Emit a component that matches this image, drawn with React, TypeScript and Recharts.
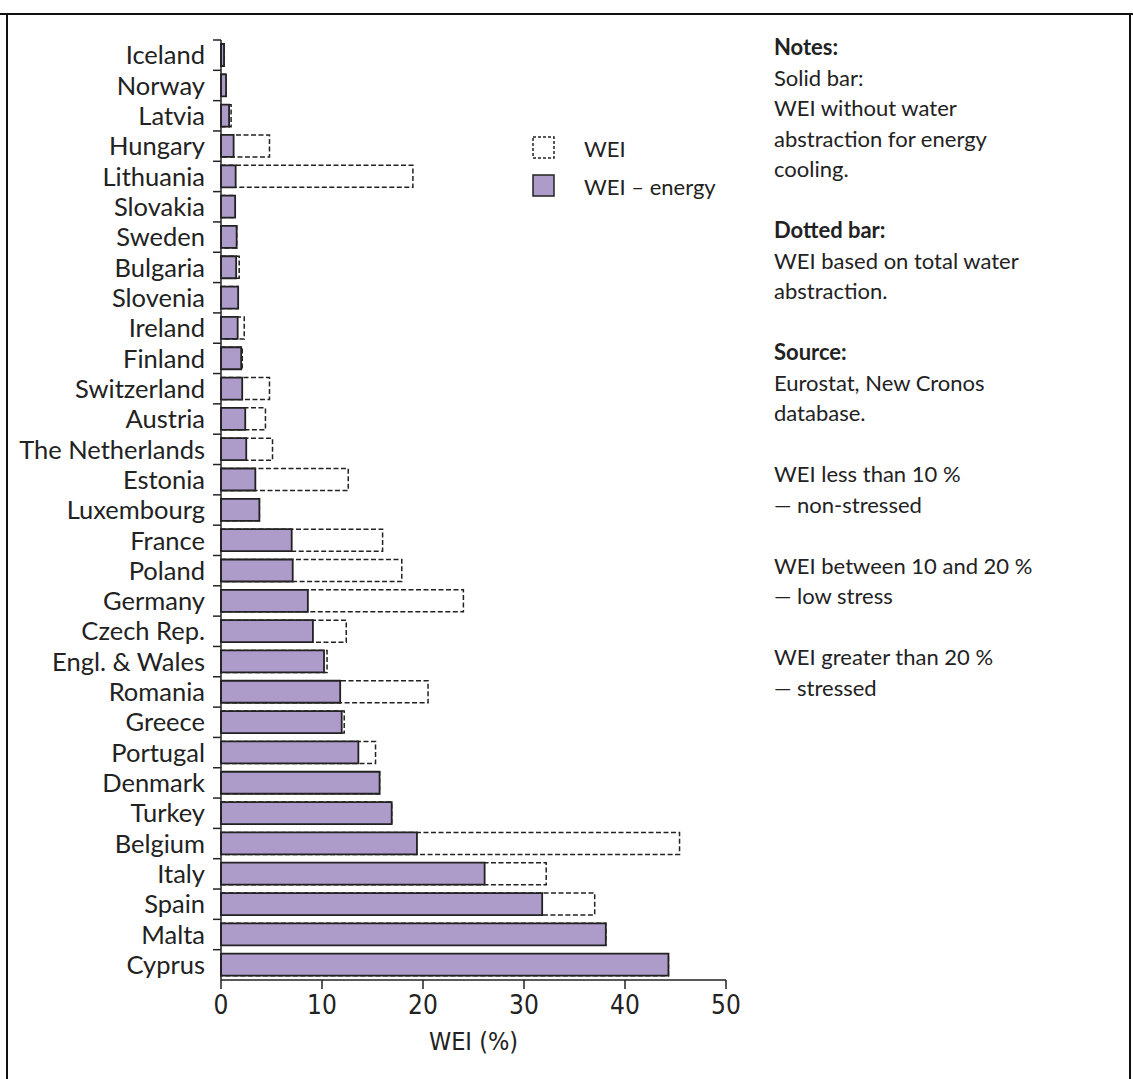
import React from 'react';
import { BarChart, Bar, XAxis, YAxis, Legend } from 'recharts';

const countries = [
  'Iceland', 'Norway', 'Latvia', 'Hungary', 'Lithuania', 'Slovakia', 'Sweden', 'Bulgaria',
  'Slovenia', 'Ireland', 'Finland', 'Switzerland', 'Austria', 'The Netherlands', 'Estonia',
  'Luxembourg', 'France', 'Poland', 'Germany', 'Czech Rep.', 'Engl. & Wales', 'Romania',
  'Greece', 'Portugal', 'Denmark', 'Turkey', 'Belgium', 'Italy', 'Spain', 'Malta', 'Cyprus',
];

// WEI without abstraction for energy cooling (solid bars)
const weiEnergy = [
  0.3, 0.5, 0.8, 1.25, 1.45, 1.4, 1.55, 1.5, 1.7, 1.65, 2.0, 2.1, 2.4, 2.5, 3.4, 3.8,
  7.0, 7.1, 8.6, 9.1, 10.2, 11.8, 11.95, 13.6, 15.7, 16.9, 19.4, 26.1, 31.8, 38.1, 44.3,
];

// WEI on total abstraction (dotted bars)
const weiTotal = [
  0.3, 0.5, 1.0, 4.8, 19.0, 1.4, 1.55, 1.8, 1.7, 2.3, 2.1, 4.8, 4.4, 5.1, 12.6, 3.8,
  16.0, 17.9, 24.0, 12.4, 10.5, 20.5, 12.2, 15.3, 15.7, 16.9, 45.4, 32.2, 37.0, 38.1, 44.3,
];

const xTicks = [0, 10, 20, 30, 40, 50];

const notes: { text: string; bold?: boolean }[] = [
  { text: 'Notes:', bold: true },
  { text: 'Solid bar:' },
  { text: 'WEI without water' },
  { text: 'abstraction for energy' },
  { text: 'cooling.' },
  { text: '' },
  { text: 'Dotted bar:', bold: true },
  { text: 'WEI based on total water' },
  { text: 'abstraction.' },
  { text: '' },
  { text: 'Source:', bold: true },
  { text: 'Eurostat, New Cronos' },
  { text: 'database.' },
  { text: '' },
  { text: 'WEI less than 10 %' },
  { text: '\u2014 non-stressed' },
  { text: '' },
  { text: 'WEI between 10 and 20 %' },
  { text: '\u2014 low stress' },
  { text: '' },
  { text: 'WEI greater than 20 %' },
  { text: '\u2014 stressed' },
];

const data = countries.map((country, i) => ({
  country,
  total: weiTotal[i],
  energy: weiEnergy[i],
}));

const FONT = 'Lato, "Open Sans", sans-serif';
const NARROW = '"Liberation Sans Narrow", "DejaVu Sans Condensed", "Liberation Sans", sans-serif';
const INK = '#222';
const PURPLE = '#ad9bc9';

const CHART_W = 760;
const CHART_H = 1079;
const TOP = 40;
const Y_W = 221;
const X_H = 75;
const BOTTOM = 24;
const BAND = (CHART_H - TOP - X_H - BOTTOM) / countries.length;

function CountryTick(props: any) {
  const { y, payload } = props;
  const top = y - BAND / 2;
  return (
    <g>
      <line x1={Y_W - 8} x2={Y_W} y1={top} y2={top} stroke={INK} strokeWidth={1.5} />
      <text x={Y_W - 16} y={y} dy="0.36em" textAnchor="end" fontFamily={FONT} fontSize={25.5} fill={INK}>
        {payload.value}
      </text>
    </g>
  );
}

function LegendBox(props: any) {
  const items = props.payload || [];
  return (
    <div style={{ fontFamily: FONT, fontSize: 22, color: INK }}>
      {items.map((item: any) => {
        const dotted = item.dataKey === 'total';
        return (
          <div key={item.dataKey} style={{ display: 'flex', alignItems: 'center', height: 38, whiteSpace: 'nowrap' }}>
            <svg width={24} height={24} style={{ marginRight: 28 }}>
              <rect
                x={1}
                y={1}
                width={21}
                height={21}
                fill={dotted ? '#fff' : PURPLE}
                stroke={INK}
                strokeWidth={1.5}
                strokeDasharray={dotted ? '3 2' : undefined}
              />
            </svg>
            <span>{item.value}</span>
          </div>
        );
      })}
    </div>
  );
}

export default function App() {
  return (
    <div style={{ position: 'fixed', inset: 0, background: '#fff', overflow: 'hidden' }}>
      <div style={{ position: 'absolute', left: 0, right: 0, top: 13, height: 2, background: '#111' }} />
      <div style={{ position: 'absolute', left: 6, top: 14, bottom: 0, width: 2, background: '#111' }} />
      <div style={{ position: 'absolute', left: 1129, top: 14, bottom: 0, width: 2, background: '#111' }} />

      <div style={{ position: 'absolute', left: 0, top: 0 }}>
        <BarChart
          width={CHART_W}
          height={CHART_H}
          data={data}
          layout="vertical"
          barSize={22}
          barGap={-22}
          margin={{ top: TOP, right: 34, bottom: BOTTOM, left: 0 }}
        >
          <XAxis
            type="number"
            domain={[0, 50]}
            ticks={xTicks}
            height={X_H}
            tickSize={9}
            tickMargin={7}
            stroke={INK}
            strokeWidth={1.5}
            tick={{ fill: INK, fontSize: 26, fontFamily: NARROW }}
            label={{
              value: 'WEI (%)',
              position: 'insideBottom',
              offset: 5,
              fill: INK,
              fontSize: 25,
              fontFamily: NARROW,
            }}
          />
          <YAxis
            type="category"
            dataKey="country"
            width={Y_W}
            interval={0}
            tickLine={false}
            stroke={INK}
            strokeWidth={1.5}
            tick={<CountryTick />}
          />
          <Legend
            content={<LegendBox />}
            layout="vertical"
            align="center"
            verticalAlign="middle"
            wrapperStyle={{ position: 'absolute', left: 532, top: 129, width: 220 }}
          />
          <Bar
            dataKey="total"
            name="WEI"
            fill="#fff"
            stroke={INK}
            strokeWidth={1.5}
            strokeDasharray="5 2.5"
            isAnimationActive={false}
          />
          <Bar
            dataKey="energy"
            name={'WEI \u2013 energy'}
            fill={PURPLE}
            stroke={INK}
            strokeWidth={1.8}
            isAnimationActive={false}
          />
        </BarChart>
      </div>

      <div
        style={{
          position: 'absolute',
          left: 774,
          top: 32,
          fontFamily: FONT,
          fontSize: 22,
          lineHeight: '30.5px',
          color: INK,
          whiteSpace: 'pre',
        }}
      >
        {notes.map((n, i) => (
          <div key={i} style={{ fontWeight: n.bold ? 700 : 400, height: 30.5 }}>
            {n.text}
          </div>
        ))}
      </div>
    </div>
  );
}
